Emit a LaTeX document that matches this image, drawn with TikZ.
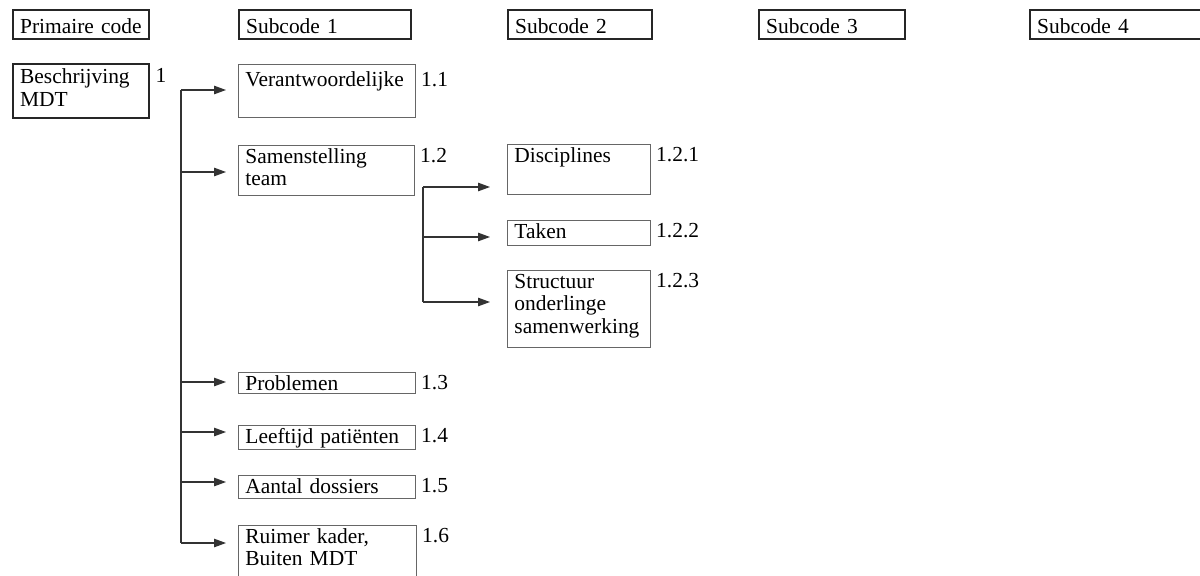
\documentclass[tikz,border=0pt]{standalone}
\usepackage{fontspec}
\setmainfont{Liberation Serif}
\usetikzlibrary{arrows.meta,positioning}

\tikzset{
	toppad/.initial=3,
	codebox/.style 2 args={draw=black!60, line width=0.5pt, anchor=north west,
		align=left, inner xsep=0.14cm, inner ysep=0pt,
		/utils/exec={\pgfmathsetlengthmacro\codeboxw{#1*0.02cm-0.28cm}},
		text width=\codeboxw,
		text height=8.3pt+\pgfkeysvalueof{/tikz/toppad}*0.02cm,
		text depth=#2*0.02cm-8.3pt-\pgfkeysvalueof{/tikz/toppad}*0.02cm},
	headbox/.style 2 args={codebox={#1}{#2}, draw=black!85, line width=1.3pt},
	codenum/.style={anchor=north west, inner sep=0pt, xshift=0.1cm,
		text height=8.3pt+\pgfkeysvalueof{/tikz/toppad}*0.02cm},
	spine/.style={draw=black!80, line width=0.6pt},
	arr/.style={spine, -{Triangle[length=0.24cm,width=0.17cm]}}
}

\begin{document}
\begin{tikzpicture}[x=0.02cm, y=-0.02cm,
		every node/.style={font=\fontsize{12.2}{13}\selectfont}]
	\clip (0,0) rectangle (1200,575);

	% column heads
	\begin{scope}[toppad=8.5]
		\node[headbox={136}{29}] (prim) at (12,9) {Primaire~code};
		\node[headbox={172}{29}] (head1) at (238,9) {Subcode 1};
		\node[headbox={144}{29}] (head2) at (507,9) {Subcode 2};
		\node[headbox={146}{29}] (head3) at (758,9) {Subcode 3};
		\node[headbox={190}{29}] (head4) at (1029,9) {Subcode 4};
	\end{scope}

	\begin{scope}[toppad=5]
		\node[headbox={136}{54}] (mdt) at (12,63) {Beschrijving\\MDT};
		\node[codenum] at (mdt.north east) {1};
	\end{scope}

	\begin{scope}[toppad=7.5]
		\node[codebox={177}{53}] (ver) at (238,64) {Verantwoordelijke};
		\node[codenum] at (ver.north east) {1.1};
	\end{scope}

	\node[codebox={176}{50}] (sam) at (238,145) {Samenstelling\\team};
	\node[codebox={177}{21}] (prob) at (238,372) {Problemen};
	\node[codebox={177}{24}] (leef) at (238,425) {Leeftijd patiënten};
	\node[codebox={177}{23}] (aant) at (238,475) {Aantal dossiers};
	\node[codebox={178}{70}] (ruim) at (238,525) {Ruimer kader,\\Buiten MDT};
	\node[codenum] at (sam.north east) {1.2};
	\node[codenum] at (prob.north east) {1.3};
	\node[codenum] at (leef.north east) {1.4};
	\node[codenum] at (aant.north east) {1.5};
	\node[codenum] at (ruim.north east) {1.6};

	\node[codebox={143}{50}] (disc) at (507,144) {Disciplines};
	\node[codebox={143}{25}] (tak) at (507,220) {Taken};
	\node[codebox={143}{77}] (struc) at (507,270) {Structuur\\onderlinge\\samenwerking};
	\node[codenum] at (disc.north east) {1.2.1};
	\node[codenum] at (tak.north east) {1.2.2};
	\node[codenum] at (struc.north east) {1.2.3};

	% branches
	\foreach \b/\y in {ver/90, sam/172, prob/382, leef/432, aant/482, ruim/543} {
		\coordinate (s\b) at (181,\y);
		\draw[arr, shorten >=0.24cm] (s\b) -- (s\b -| \b.west);
	}
	\draw[spine] (sver) -- (sruim);

	\foreach \b/\y in {disc/187, tak/237, struc/302} {
		\coordinate (s\b) at (423,\y);
		\draw[arr, shorten >=0.34cm] (s\b) -- (s\b -| \b.west);
	}
	\draw[spine] (sdisc) -- (sstruc);
\end{tikzpicture}
\end{document}
